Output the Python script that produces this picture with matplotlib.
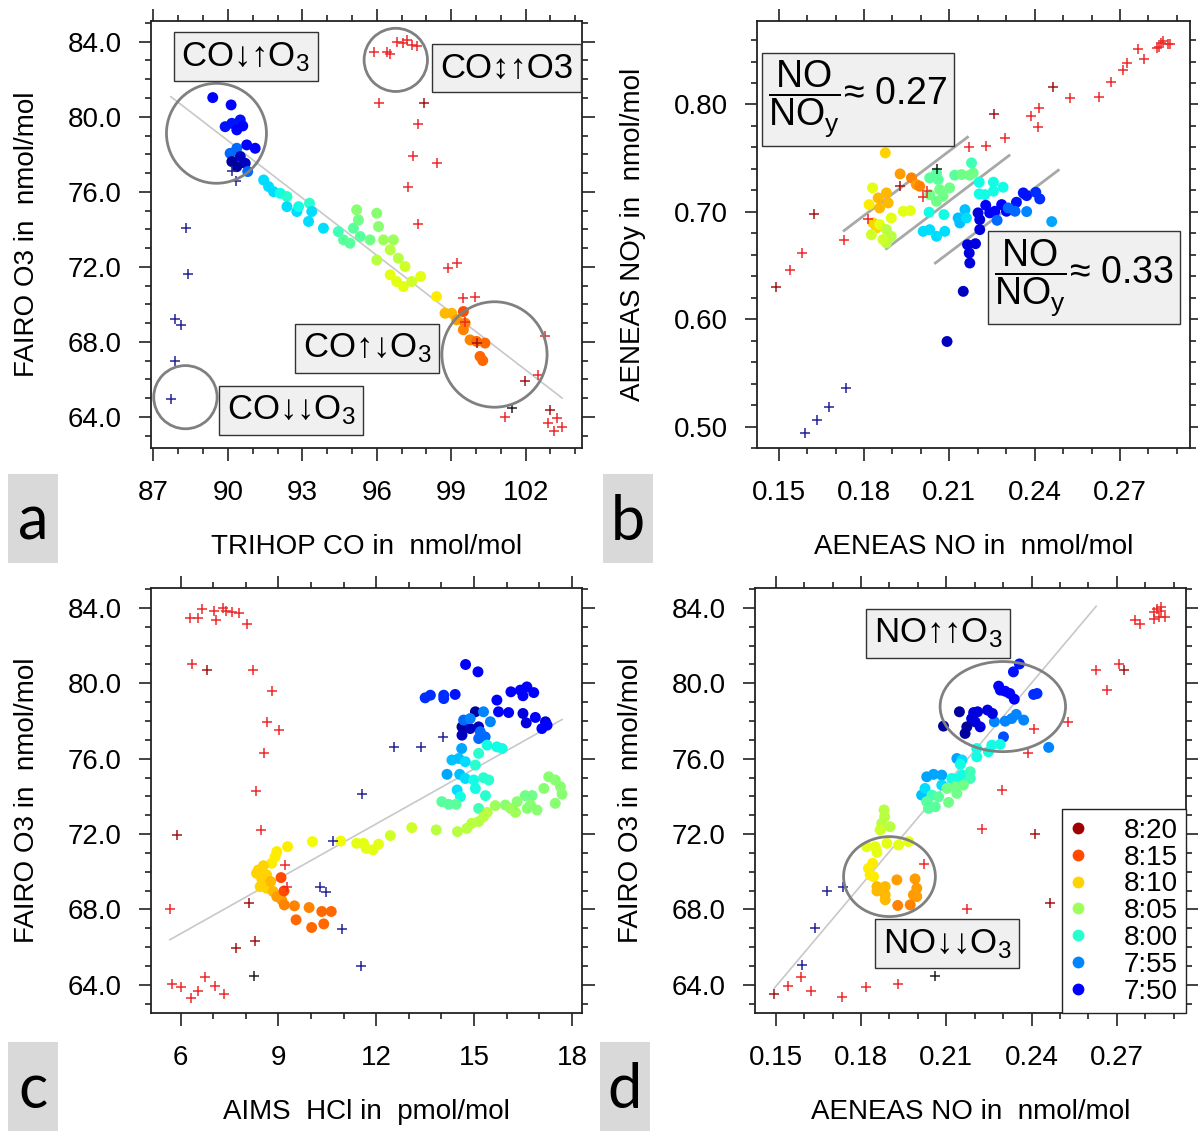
import numpy as np
import matplotlib
matplotlib.use('Agg')
import matplotlib.pyplot as plt
from matplotlib.patches import Ellipse, Rectangle
from matplotlib.lines import Line2D
from matplotlib.ticker import MultipleLocator, FormatStrFormatter

plt.rcParams['font.family'] = ['Liberation Sans', 'DejaVu Sans']
plt.rcParams['mathtext.fontset'] = 'custom'
plt.rcParams['mathtext.rm'] = 'Liberation Sans'
plt.rcParams['mathtext.it'] = 'Liberation Sans:italic'

# time colour scale (minutes after midnight), 7:50 = 470
t_min, t_max = 466, 501
cmap = plt.get_cmap('jet')

# ---------------- panel a: CO vs O3 ----------------
a_x = [89.39, 90.13, 89.89, 90.16, 90.36, 90.50, 90.60, 90.09, 90.36, 90.76, 91.10, 90.16, 90.50, 90.70, 90.36, 90.80,
       91.44, 91.64, 91.84, 92.11, 92.38, 92.38, 92.78, 92.85, 93.29, 93.38, 93.25, 93.85,
       94.45, 94.66, 94.92, 95.06, 95.26, 95.19, 95.33, 95.73, 96.00, 96.07, 96.27, 96.67, 96.00, 96.54, 96.87, 97.14,
       96.54, 96.80, 97.07, 97.41, 97.77, 98.41,
       98.75, 99.02, 99.22, 99.49, 99.56, 99.49, 99.76, 100.02, 100.36, 100.16, 100.27]
a_y = [81.02, 80.63, 79.47, 79.65, 79.30, 79.83, 79.51, 78.05, 78.32, 78.50, 78.32, 77.61, 77.88, 77.52, 77.34, 77.08,
       76.63, 76.28, 76.01, 75.92, 75.75, 75.21, 74.95, 75.21, 75.39, 74.95, 74.42, 74.06,
       73.88, 73.44, 73.26, 74.06, 74.50, 75.04, 73.62, 73.44, 74.86, 74.15, 73.44, 73.44, 72.37, 72.91, 72.46, 72.02,
       71.58, 71.22, 70.95, 71.22, 71.49, 70.42,
       69.53, 69.53, 69.18, 69.62, 69.00, 68.65, 68.11, 68.03, 67.94, 67.23, 67.01]
a_t = [470, 470, 471, 471, 470, 471, 470, 474, 474, 470, 470, 467, 468, 468, 467, 474,
       478, 478, 478, 479, 480, 478, 478, 479, 480, 478, 478, 478,
       481, 482, 482, 482, 483, 484, 482, 483, 484, 484, 485, 485, 486, 486, 486, 487,
       488, 488, 488, 487, 488, 489,
       491, 491, 492, 495, 493, 493, 493, 494, 494, 494, 494]
a_red_x = [95.87, 96.43, 96.55, 96.81, 97.07, 97.20, 97.41, 97.61, 96.07, 97.68, 97.48, 98.42, 97.27, 97.68, 98.88,
           99.25, 99.46, 99.96, 102.78, 102.51, 101.17, 102.91, 103.25, 103.45, 103.14, 99.56]
a_red_y = [83.43, 83.43, 83.35, 84.00, 83.95, 84.09, 83.82, 83.79, 80.72, 79.62, 77.93, 77.52, 76.28, 74.27, 71.93,
           72.20, 70.33, 70.39, 68.33, 66.25, 64.00, 63.68, 63.94, 63.46, 63.23, 69.04]
a_dred_x = [97.92, 101.97, 102.98, 100.02]
a_dred_y = [80.72, 65.90, 64.39, 67.97]
a_blue_x = [88.31, 88.41, 87.88, 88.11, 87.88, 87.70, 90.16, 90.34]
a_blue_y = [74.06, 71.63, 69.21, 68.91, 66.96, 64.96, 77.13, 76.55]
a_blk_x = [101.44]
a_blk_y = [64.48]
a_fit_x = [87.70, 103.47]
a_fit_y = [81.07, 65.01]

# ---------------- panel b: NO vs NOy ----------------
b_x = [0.1875, 0.1927, 0.1967, 0.1984, 0.1996, 0.1830, 0.1818, 0.1850, 0.1879, 0.1885, 0.1855,
       0.1896, 0.1938, 0.1963, 0.1832, 0.1844, 0.1855, 0.1826, 0.1879, 0.1896, 0.1879, 0.1867,
       0.2031, 0.2055, 0.2061, 0.2031, 0.2066, 0.2101, 0.2078, 0.2055, 0.2119, 0.2143, 0.2172, 0.2184, 0.2178,
       0.2205, 0.2205, 0.2225, 0.2255, 0.2255, 0.2289, 0.2029, 0.2081, 0.2008, 0.2031, 0.2055, 0.2084,
       0.2131, 0.2155, 0.2137, 0.2160,
       0.2228, 0.2201, 0.2207, 0.2242, 0.2260, 0.2284, 0.2301, 0.2336, 0.2360, 0.2372, 0.2404, 0.2418,
       0.2307, 0.2331, 0.2372, 0.2268, 0.2460, 0.2207, 0.2164, 0.2192, 0.2170, 0.2172, 0.2149, 0.2092]
b_y = [0.7549, 0.7353, 0.7316, 0.7254, 0.7238, 0.7223, 0.7067, 0.7129, 0.7176, 0.7083, 0.7036,
       0.6943, 0.7005, 0.7011, 0.6896, 0.6850, 0.6881, 0.6787, 0.6834, 0.6772, 0.6710, 0.6741,
       0.7316, 0.7362, 0.7300, 0.7160, 0.7207, 0.7223, 0.7145, 0.7098, 0.7341, 0.7347, 0.7341, 0.7362, 0.7456,
       0.7276, 0.7167, 0.7160, 0.7276, 0.7192, 0.7229, 0.6996, 0.6974, 0.6818, 0.6834, 0.6772, 0.6818,
       0.6943, 0.7020, 0.6896, 0.6943,
       0.7061, 0.6990, 0.6927, 0.6990, 0.7005, 0.7067, 0.7005, 0.7089, 0.7176, 0.7151, 0.7182, 0.7120,
       0.7036, 0.7005, 0.7002, 0.6921, 0.6909, 0.6834, 0.6694, 0.6703, 0.6616, 0.6523, 0.6259, 0.5792]
b_t = [490, 492, 493, 492, 493, 488, 489, 491, 491, 491, 491,
       488, 488, 488, 490, 490, 488, 487, 486, 486, 486, 487,
       482, 482, 482, 483, 483, 483, 483, 483, 482, 483, 483, 483, 481,
       479, 479, 479, 479, 479, 479, 479, 479, 478, 478, 478, 478,
       477, 477, 477, 478,
       470, 469, 469, 470, 470, 470, 470, 471, 471, 471, 472, 472,
       474, 474, 475, 474, 476, 469, 469, 469, 469, 469, 468, 468]
b_red_x = [0.1539, 0.1583, 0.1730, 0.1814, 0.2006, 0.2023, 0.2170, 0.2228, 0.2296, 0.2387, 0.2415, 0.2413,
           0.2526, 0.2627, 0.2667, 0.2709, 0.2726, 0.2765, 0.2785, 0.2829, 0.2843, 0.2852, 0.2867, 0.2838, 0.2876]
b_red_y = [0.6461, 0.6616, 0.6741, 0.6933, 0.7139, 0.7192, 0.7605, 0.7611, 0.7686, 0.7897, 0.7969, 0.7792,
           0.8056, 0.8072, 0.8211, 0.8323, 0.8389, 0.8513, 0.8420, 0.8529, 0.8575, 0.8591, 0.8560, 0.8538, 0.8563]
b_dred_x = [0.1492, 0.1623, 0.1926, 0.2257, 0.2465]
b_dred_y = [0.6299, 0.6983, 0.7238, 0.7910, 0.8159]
b_blue_x = [0.1593, 0.1635, 0.1677, 0.1736]
b_blue_y = [0.4937, 0.5062, 0.5186, 0.5357]
b_blk_x = [0.2058]
b_blk_y = [0.7400]
b_lines = [([0.1730, 0.2164], [0.6825, 0.7695]),
           ([0.1879, 0.2310], [0.6657, 0.7524]),
           ([0.2051, 0.2483], [0.6523, 0.7387])]

# ---------------- panel c: HCl vs O3 ----------------
c_x = [14.74, 15.12, 13.50, 13.66, 14.07, 14.07, 14.42, 15.70, 16.13, 16.42, 16.62, 16.50, 16.83, 15.75, 16.06,
       16.50, 16.88, 16.60, 17.19, 17.24, 17.08, 15.04, 14.63, 14.88, 14.63, 15.14,
       14.68, 14.88, 15.29, 15.50, 15.19, 15.34, 15.14,
       15.40, 15.70, 15.86, 15.14, 15.04, 14.62, 14.32, 14.53, 14.73, 14.17, 14.56, 14.73, 14.99, 15.29, 15.45,
       14.48, 14.58, 15.04, 15.35, 15.14,
       14.01, 14.22, 14.45,
       17.29, 17.49, 17.65, 17.70, 17.14, 17.49, 16.57, 16.78, 16.32, 16.63, 16.73, 16.93, 15.96, 16.12, 16.27, 15.65,
       15.40, 15.29, 15.14, 14.93, 14.78, 14.49, 13.84, 13.09, 12.43,
       12.07, 11.90, 11.69, 11.40, 11.61, 10.91, 10.04, 9.28, 8.95, 8.90, 8.79,
       8.54, 8.38, 8.33, 8.49, 8.64, 8.44, 8.64, 8.76, 8.84, 8.95, 9.10, 9.08, 9.17,
       9.18, 9.49, 9.94, 10.33, 10.62, 9.54, 10.02, 10.39]
c_y = [81.00, 80.61, 79.23, 79.37, 79.37, 79.19, 79.41, 79.11, 79.55, 79.64, 79.81, 79.34, 79.51, 78.49, 78.45,
       78.40, 78.19, 77.90, 77.96, 77.78, 77.60, 78.49, 77.69, 77.60, 77.25, 77.69,
       78.05, 78.13, 78.49, 77.96, 77.43, 77.16, 77.07,
       76.72, 76.63, 76.54, 76.28, 75.66, 76.54, 75.93, 76.01, 75.84, 75.17, 75.17, 74.95, 74.87, 74.99, 74.87,
       74.34, 73.98, 74.42, 74.04, 73.36,
       73.72, 73.58, 73.58,
       75.04, 74.87, 74.51, 74.12, 74.42, 73.63, 74.04, 74.04, 73.72, 73.36, 73.54, 73.28, 73.54, 73.36, 73.15, 73.51,
       73.15, 72.92, 72.66, 72.57, 72.30, 72.13, 72.22, 72.34, 71.92,
       71.46, 71.16, 71.24, 71.51, 71.51, 71.63, 71.60, 71.33, 71.07, 70.80, 70.45,
       70.32, 70.09, 69.92, 69.62, 69.83, 69.21, 69.12, 69.48, 68.95, 68.68, 68.51, 69.69, 68.98,
       68.24, 68.19, 68.10, 67.89, 67.89, 67.45, 67.04, 67.23]
c_t = [470, 470, 472, 472, 472, 472, 471, 470, 470, 470, 470, 470, 470, 470, 470,
       469, 470, 469, 469, 470, 470, 467, 467, 468, 468, 468,
       474, 475, 475, 475, 474, 474, 474,
       479, 479, 479, 480, 480, 476, 477, 477, 478, 476, 477, 478, 479, 480, 480,
       478, 479, 479, 480, 481,
       482, 482, 482,
       484, 484, 484, 484, 484, 484, 483, 483, 484, 484, 484, 484, 484, 485, 485, 485,
       486, 486, 486, 486, 486, 486, 486, 487, 487,
       488, 488, 488, 488, 488, 488.5, 488.5, 489, 489, 489, 489,
       490, 490, 490, 490, 490, 490, 490, 491, 491, 492, 492, 495, 495,
       493, 493, 493, 494, 494, 494, 494, 494]
c_red_x = [6.29, 6.54, 6.67, 7.03, 7.07, 7.29, 7.39, 7.57, 7.79, 8.05, 6.35, 8.23, 8.81, 8.66, 9.01, 8.57, 8.31,
           8.46, 5.67, 9.20, 9.25, 5.74, 6.00, 6.31, 6.54, 6.75, 7.05, 7.33]
c_red_y = [83.47, 83.47, 83.96, 83.82, 83.38, 84.02, 83.84, 83.79, 83.73, 83.13, 81.05, 80.70, 79.60, 77.96, 77.50,
           76.28, 74.28, 72.22, 68.01, 70.36, 69.18, 64.04, 63.86, 63.29, 63.65, 64.39, 63.96, 63.50]
c_dred_x = [6.82, 5.90, 8.11, 7.70, 8.29]
c_dred_y = [80.70, 71.95, 68.33, 65.94, 66.30]
c_blue_x = [12.53, 13.37, 14.05, 11.57, 10.68, 10.28, 10.45, 10.96, 11.54]
c_blue_y = [76.60, 76.60, 77.13, 74.11, 71.63, 69.21, 68.91, 66.95, 64.99]
c_blk_x = [8.24]
c_blk_y = [64.44]
c_fit_x = [5.67, 17.70]
c_fit_y = [66.39, 78.08]

# ---------------- panel d: NO vs O3 ----------------
d_x = [0.2357, 0.2336, 0.2284, 0.2290, 0.2307, 0.2323, 0.2339, 0.2407, 0.2419,
       0.2372, 0.2460, 0.2301, 0.2269, 0.2307, 0.2330, 0.2346,
       0.2146, 0.2090, 0.2196, 0.2210, 0.2245, 0.2262, 0.2189, 0.2201, 0.2219, 0.2172, 0.2166,
       0.2207, 0.2248, 0.2289, 0.2260, 0.2207, 0.2137, 0.2155, 0.2149, 0.2031, 0.2055, 0.2084, 0.2084,
       0.2013, 0.2025, 0.2119, 0.2137, 0.2155, 0.2184, 0.2184,
       0.2049, 0.2073, 0.2102, 0.2131, 0.2160, 0.2137, 0.2108, 0.2031, 0.2037, 0.2061,
       0.1881, 0.1883, 0.1873, 0.1902, 0.1867,
       0.1820, 0.1850, 0.1856, 0.1891, 0.1932, 0.1967,
       0.1841, 0.1826, 0.1844, 0.1832,
       0.1856, 0.1885, 0.1856, 0.1885, 0.1885, 0.1926, 0.1990, 0.1996, 0.1984, 0.1996, 0.1973, 0.1929]
d_y = [81.03, 80.61, 79.85, 79.64, 79.58, 79.46, 79.16, 79.41, 79.46,
       78.05, 76.60, 77.16, 77.96, 77.99, 78.13, 78.35,
       78.49, 77.73, 78.45, 78.49, 78.58, 78.40, 78.13, 77.96, 77.69, 77.69, 77.34,
       76.54, 76.37, 76.76, 76.72, 76.10, 76.01, 75.93, 75.70, 75.04, 75.17, 75.13, 74.60,
       74.07, 74.42, 74.95, 74.92, 75.13, 75.31, 74.95,
       74.07, 73.98, 74.42, 74.51, 74.60, 74.16, 73.68, 73.72, 73.36, 73.45,
       73.28, 72.92, 72.57, 72.39, 72.22,
       71.33, 71.33, 71.03, 71.51, 71.42, 71.60,
       70.45, 70.18, 69.74, 69.83,
       69.21, 69.21, 68.98, 68.77, 68.51, 69.57, 69.62, 69.12, 68.77, 68.68, 68.24, 68.21]
d_t = [471, 471, 470, 470, 470, 470, 470, 472, 472,
       475, 475, 473, 475, 475, 475, 475,
       467, 467, 469, 469, 469, 469, 469, 469, 469, 467, 467,
       479, 479, 479, 479, 479, 476, 478, 479, 476, 476, 476, 478,
       477, 478, 479, 479, 479, 481, 481,
       481, 482, 483, 483, 483, 483, 483, 482, 482, 482,
       486, 486, 486, 486, 487,
       488, 488, 488, 488, 488, 488,
       489, 489, 489, 489,
       491, 491, 491, 491, 491, 492, 492, 492, 492, 492, 493, 493]
d_red_x = [0.1542, 0.1588, 0.1624, 0.1732, 0.1818, 0.1929, 0.2022, 0.2172, 0.2227, 0.2296, 0.2386, 0.2409, 0.2528,
           0.2627, 0.2665, 0.2707, 0.2762, 0.2782, 0.2829, 0.2841, 0.2855, 0.2829, 0.2847, 0.2870, 0.2855]
d_red_y = [63.96, 64.41, 63.68, 63.33, 63.88, 64.04, 70.43, 68.03, 72.25, 74.34, 76.30, 77.55, 77.96,
           80.70, 79.62, 81.05, 83.38, 83.17, 83.79, 83.96, 83.82, 83.43, 83.52, 83.52, 84.05]
d_dred_x = [0.1495, 0.2413, 0.2465, 0.2726]
d_dred_y = [63.50, 71.99, 68.33, 80.70]
d_blue_x = [0.1594, 0.1638, 0.1682, 0.1738]
d_blue_y = [65.06, 67.00, 68.98, 69.21]
d_blk_x = [0.2061]
d_blk_y = [64.44]
d_fit_x = [0.1495, 0.2627]
d_fit_y = [63.82, 84.09]

legend_labels = ['8:20', '8:15', '8:10', '8:05', '8:00', '7:55', '7:50']
legend_times = [500, 495, 490, 485, 480, 475, 470]

RED, DRED, BLUE, BLK = '#ee2a2a', '#a31515', '#23239a', '#202020'
BOXC = '#f0f0f0'

fig = plt.figure(figsize=(11.98, 11.31), dpi=100)
ax_a = fig.add_axes([0.126, 0.6039, 0.3598, 0.3775])
ax_b = fig.add_axes([0.6319, 0.6039, 0.3614, 0.3775])
ax_c = fig.add_axes([0.126, 0.1043, 0.3598, 0.3758])
ax_d = fig.add_axes([0.6302, 0.1043, 0.3598, 0.3758])


def draw(ax, x, y, t, rx, ry, drx, dry, bx, by, kx, ky):
    ax.scatter(x, y, c=t, cmap=cmap, vmin=t_min, vmax=t_max, s=62, edgecolors='none', zorder=3)
    for px, py, col in [(rx, ry, RED), (drx, dry, DRED), (bx, by, BLUE), (kx, ky, BLK)]:
        ax.scatter(px, py, marker='+', s=55, c=col, linewidths=1.1, zorder=4)


def style(ax, xlab, ylab):
    for sp in ax.spines.values():
        sp.set_linewidth(1.3)
        sp.set_color('#222222')
    ax.tick_params(which='both', direction='out', top=True, right=True, width=1.2, colors='#222222',
                   labelsize=20, labelcolor='black')
    ax.tick_params(which='major', length=9)
    ax.tick_params(which='minor', length=4.5)
    ax.tick_params(axis='x', pad=14)
    ax.tick_params(axis='y', pad=12)
    ax.set_xlabel(xlab, fontsize=20, labelpad=20)
    ax.set_ylabel(ylab, fontsize=20, labelpad=20)


def tbox(ax, x, y, s, size=25, pad=0.22):
    ax.text(x, y, s, transform=ax.transAxes, ha='center', va='center', fontsize=size, zorder=6,
            bbox=dict(boxstyle='square,pad=%g' % pad, fc=BOXC, ec='#333333', lw=1.0))


def ring(ax, x, y, w, h):
    ax.add_patch(Ellipse((x, y), w, h, transform=ax.transAxes, fill=False, ec='#808080', lw=2.0, zorder=5))


# panel a
draw(ax_a, a_x, a_y, a_t, a_red_x, a_red_y, a_dred_x, a_dred_y, a_blue_x, a_blue_y, a_blk_x, a_blk_y)
ax_a.plot(a_fit_x, a_fit_y, color='#c8c8c8', lw=1.2, zorder=2)
ax_a.set_xlim(86.9, 104.27)
ax_a.set_ylim(62.35, 85.1)
ax_a.xaxis.set_major_locator(MultipleLocator(3))
ax_a.xaxis.set_minor_locator(MultipleLocator(1))
ax_a.yaxis.set_major_locator(MultipleLocator(4))
ax_a.yaxis.set_minor_locator(MultipleLocator(1))
ax_a.yaxis.set_major_formatter(FormatStrFormatter('%.1f'))
style(ax_a, 'TRIHOP CO in  nmol/mol', 'FAIRO O3 in  nmol/mol')
ring(ax_a, 0.152, 0.737, 0.232, 0.234)
ring(ax_a, 0.568, 0.909, 0.147, 0.148)
ring(ax_a, 0.797, 0.219, 0.244, 0.247)
ring(ax_a, 0.080, 0.119, 0.147, 0.148)
tbox(ax_a, 0.220, 0.916, 'CO↓↑O$_3$')
tbox(ax_a, 0.825, 0.890, 'CO↕↑O3')
tbox(ax_a, 0.501, 0.234, 'CO↑↓O$_3$')
tbox(ax_a, 0.3255, 0.0878, 'CO↓↓O$_3$')

# panel b
draw(ax_b, b_x, b_y, b_t, b_red_x, b_red_y, b_dred_x, b_dred_y, b_blue_x, b_blue_y, b_blk_x, b_blk_y)
for lx, ly in b_lines:
    ax_b.plot(lx, ly, color='#a8a8a8', lw=2.0, zorder=2)
ax_b.set_xlim(0.1424, 0.2946)
ax_b.set_ylim(0.48, 0.8777)
ax_b.xaxis.set_major_locator(MultipleLocator(0.03))
ax_b.xaxis.set_minor_locator(MultipleLocator(0.01))
ax_b.yaxis.set_major_locator(MultipleLocator(0.1))
ax_b.yaxis.set_minor_locator(MultipleLocator(0.02))
ax_b.xaxis.set_major_formatter(FormatStrFormatter('%.2f'))
ax_b.yaxis.set_major_formatter(FormatStrFormatter('%.2f'))
style(ax_b, 'AENEAS NO in  nmol/mol', 'AENEAS NOy in  nmol/mol')
tbox(ax_b, 0.2325, 0.817, r'$\dfrac{\mathrm{NO}}{\mathrm{NO_y}}$≈ 0.27', size=27, pad=0.17)
tbox(ax_b, 0.755, 0.399, r'$\dfrac{\mathrm{NO}}{\mathrm{NO_y}}$≈ 0.33', size=27, pad=0.17)

# panel c
draw(ax_c, c_x, c_y, c_t, c_red_x, c_red_y, c_dred_x, c_dred_y, c_blue_x, c_blue_y, c_blk_x, c_blk_y)
ax_c.plot(c_fit_x, c_fit_y, color='#c8c8c8', lw=1.2, zorder=2)
ax_c.set_xlim(5.09, 18.31)
ax_c.set_ylim(62.5, 85.06)
ax_c.xaxis.set_major_locator(MultipleLocator(3))
ax_c.xaxis.set_minor_locator(MultipleLocator(1))
ax_c.yaxis.set_major_locator(MultipleLocator(4))
ax_c.yaxis.set_minor_locator(MultipleLocator(1))
ax_c.yaxis.set_major_formatter(FormatStrFormatter('%.1f'))
style(ax_c, 'AIMS  HCl in  pmol/mol', 'FAIRO O3 in  nmol/mol')

# panel d
draw(ax_d, d_x, d_y, d_t, d_red_x, d_red_y, d_dred_x, d_dred_y, d_blue_x, d_blue_y, d_blk_x, d_blk_y)
ax_d.plot(d_fit_x, d_fit_y, color='#c8c8c8', lw=1.2, zorder=2)
ax_d.set_xlim(0.1427, 0.2943)
ax_d.set_ylim(62.5, 85.06)
ax_d.xaxis.set_major_locator(MultipleLocator(0.03))
ax_d.xaxis.set_minor_locator(MultipleLocator(0.01))
ax_d.yaxis.set_major_locator(MultipleLocator(4))
ax_d.yaxis.set_minor_locator(MultipleLocator(1))
ax_d.xaxis.set_major_formatter(FormatStrFormatter('%.2f'))
ax_d.yaxis.set_major_formatter(FormatStrFormatter('%.1f'))
style(ax_d, 'AENEAS NO in  nmol/mol', 'FAIRO O3 in  nmol/mol')
ring(ax_d, 0.575, 0.721, 0.291, 0.212)
ring(ax_d, 0.312, 0.321, 0.213, 0.188)
tbox(ax_d, 0.425, 0.894, 'NO↑↑O$_3$')
tbox(ax_d, 0.446, 0.163, 'NO↓↓O$_3$')

handles = [Line2D([], [], ls='none', marker='o', ms=8.5, mec='none',
                  mfc=cmap((tt - t_min) / (t_max - t_min))) for tt in legend_times]
leg = ax_d.legend(handles, legend_labels, loc='lower right', fontsize=20, frameon=True, fancybox=False,
                  borderaxespad=0.0, labelspacing=0.03, handletextpad=1.4, handlelength=0.5,
                  borderpad=0.3, framealpha=1)
leg.get_frame().set_edgecolor('#222222')
leg.get_frame().set_linewidth(1.0)
leg.set_zorder(7)

# panel letters
for lx, ly, s in [(8, 474, 'a'), (603, 474, 'b'), (8, 1042, 'c'), (600, 1042, 'd')]:
    fig.patches.append(Rectangle((lx / 1198, 1 - (ly + 89) / 1131), 50 / 1198, 89 / 1131,
                                 transform=fig.transFigure, fc='#d9d9d9', ec='none'))
    fig.text((lx + 25) / 1198, 1 - (ly + 48) / 1131, s, ha='center', va='center', fontsize=44,
             family=['Lato', 'DejaVu Sans'])

fig.savefig('out.png', dpi=100, facecolor='white')
